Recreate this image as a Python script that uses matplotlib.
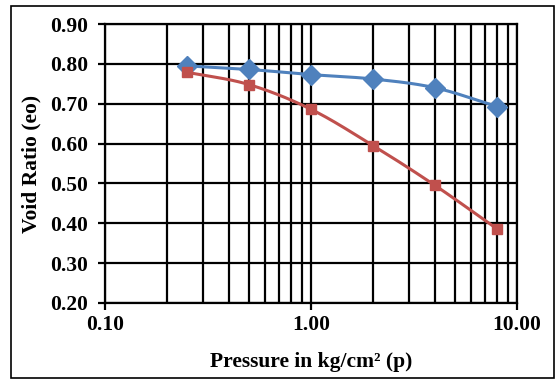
import numpy as np
import matplotlib.pyplot as plt
from matplotlib.patches import Rectangle
from matplotlib.ticker import FixedLocator, FormatStrFormatter, LogLocator, NullFormatter

plt.rcParams['font.family'] = ['Liberation Serif', 'DejaVu Serif']
plt.rcParams['font.weight'] = 'bold'

# Data
pressure = [0.25, 0.5, 1.0, 2.0, 4.0, 8.0]
void_ratio_a = [0.795, 0.786, 0.773, 0.762, 0.740, 0.693]
void_ratio_b = [0.779, 0.748, 0.686, 0.595, 0.495, 0.386]
y_ticks = [0.20, 0.30, 0.40, 0.50, 0.60, 0.70, 0.80, 0.90]
x_ticks = [0.1, 1.0, 10.0]


# Smooth line through the points (like Excel "smoothed line"), in log-x space
def smooth(xs, ys, n=30):
    lx = np.log10(np.asarray(xs, float))
    y = np.asarray(ys, float)
    px = np.concatenate([[2 * lx[0] - lx[1]], lx, [2 * lx[-1] - lx[-2]]])
    py = np.concatenate([[2 * y[0] - y[1]], y, [2 * y[-1] - y[-2]]])
    out_x, out_y = [], []
    t = np.linspace(0, 1, n)
    for i in range(1, len(px) - 2):
        for arr, out in ((px, out_x), (py, out_y)):
            p0, p1, p2, p3 = arr[i - 1], arr[i], arr[i + 1], arr[i + 2]
            seg = 0.5 * ((2 * p1) + (-p0 + p2) * t
                         + (2 * p0 - 5 * p1 + 4 * p2 - p3) * t ** 2
                         + (-p0 + 3 * p1 - 3 * p2 + p3) * t ** 3)
            out.extend(seg)
    return 10 ** np.array(out_x), np.array(out_y)


fig = plt.figure(figsize=(5.56, 3.8), dpi=100)
ax = fig.add_axes([105 / 556, 77 / 380, 412 / 556, 279 / 380])

ax.set_xscale('log')
ax.set_xlim(0.1, 10)
ax.set_ylim(0.2, 0.9)

ax.xaxis.set_major_locator(FixedLocator(x_ticks))
ax.xaxis.set_major_formatter(FormatStrFormatter('%.2f'))
ax.xaxis.set_minor_locator(LogLocator(base=10, subs=np.arange(2, 10)))
ax.xaxis.set_minor_formatter(NullFormatter())
ax.yaxis.set_major_locator(FixedLocator(y_ticks))
ax.yaxis.set_major_formatter(FormatStrFormatter('%.2f'))

ax.grid(True, which='major', color='black', linewidth=1.6)
ax.grid(True, which='minor', axis='x', color='black', linewidth=1.6)
ax.set_axisbelow(True)
for s in ax.spines.values():
    s.set_color('black')
    s.set_linewidth(1.6)
ax.tick_params(which='major', length=5, width=1.6, labelsize=15.5)
ax.tick_params(axis='y', pad=7)
ax.tick_params(axis='x', pad=4)
ax.tick_params(which='minor', length=0)

blue = '#4F81BD'
red = '#C0504D'
sx, sy = smooth(pressure, void_ratio_a)
ax.plot(sx, sy, color=blue, linewidth=2.2, zorder=3)
ax.plot(pressure, void_ratio_a, linestyle='none', marker='D', markersize=10,
        color=blue, zorder=4)
sx, sy = smooth(pressure, void_ratio_b)
ax.plot(sx, sy, color=red, linewidth=2.2, zorder=3)
ax.plot(pressure, void_ratio_b, linestyle='none', marker='s', markersize=7.5,
        color=red, zorder=4)

ax.set_xlabel('Pressure in kg/cm² (p)', fontsize=15.5, fontweight='bold', labelpad=12)
ax.set_ylabel('Void Ratio (eo)', fontsize=15.5, fontweight='bold', labelpad=6)

# Outer chart border
fig.patches.append(Rectangle((11 / 556, 2 / 380), 543 / 556, 372 / 380,
                             transform=fig.transFigure, fill=False,
                             edgecolor='black', linewidth=1.2))

fig.savefig('out.png', dpi=100)
